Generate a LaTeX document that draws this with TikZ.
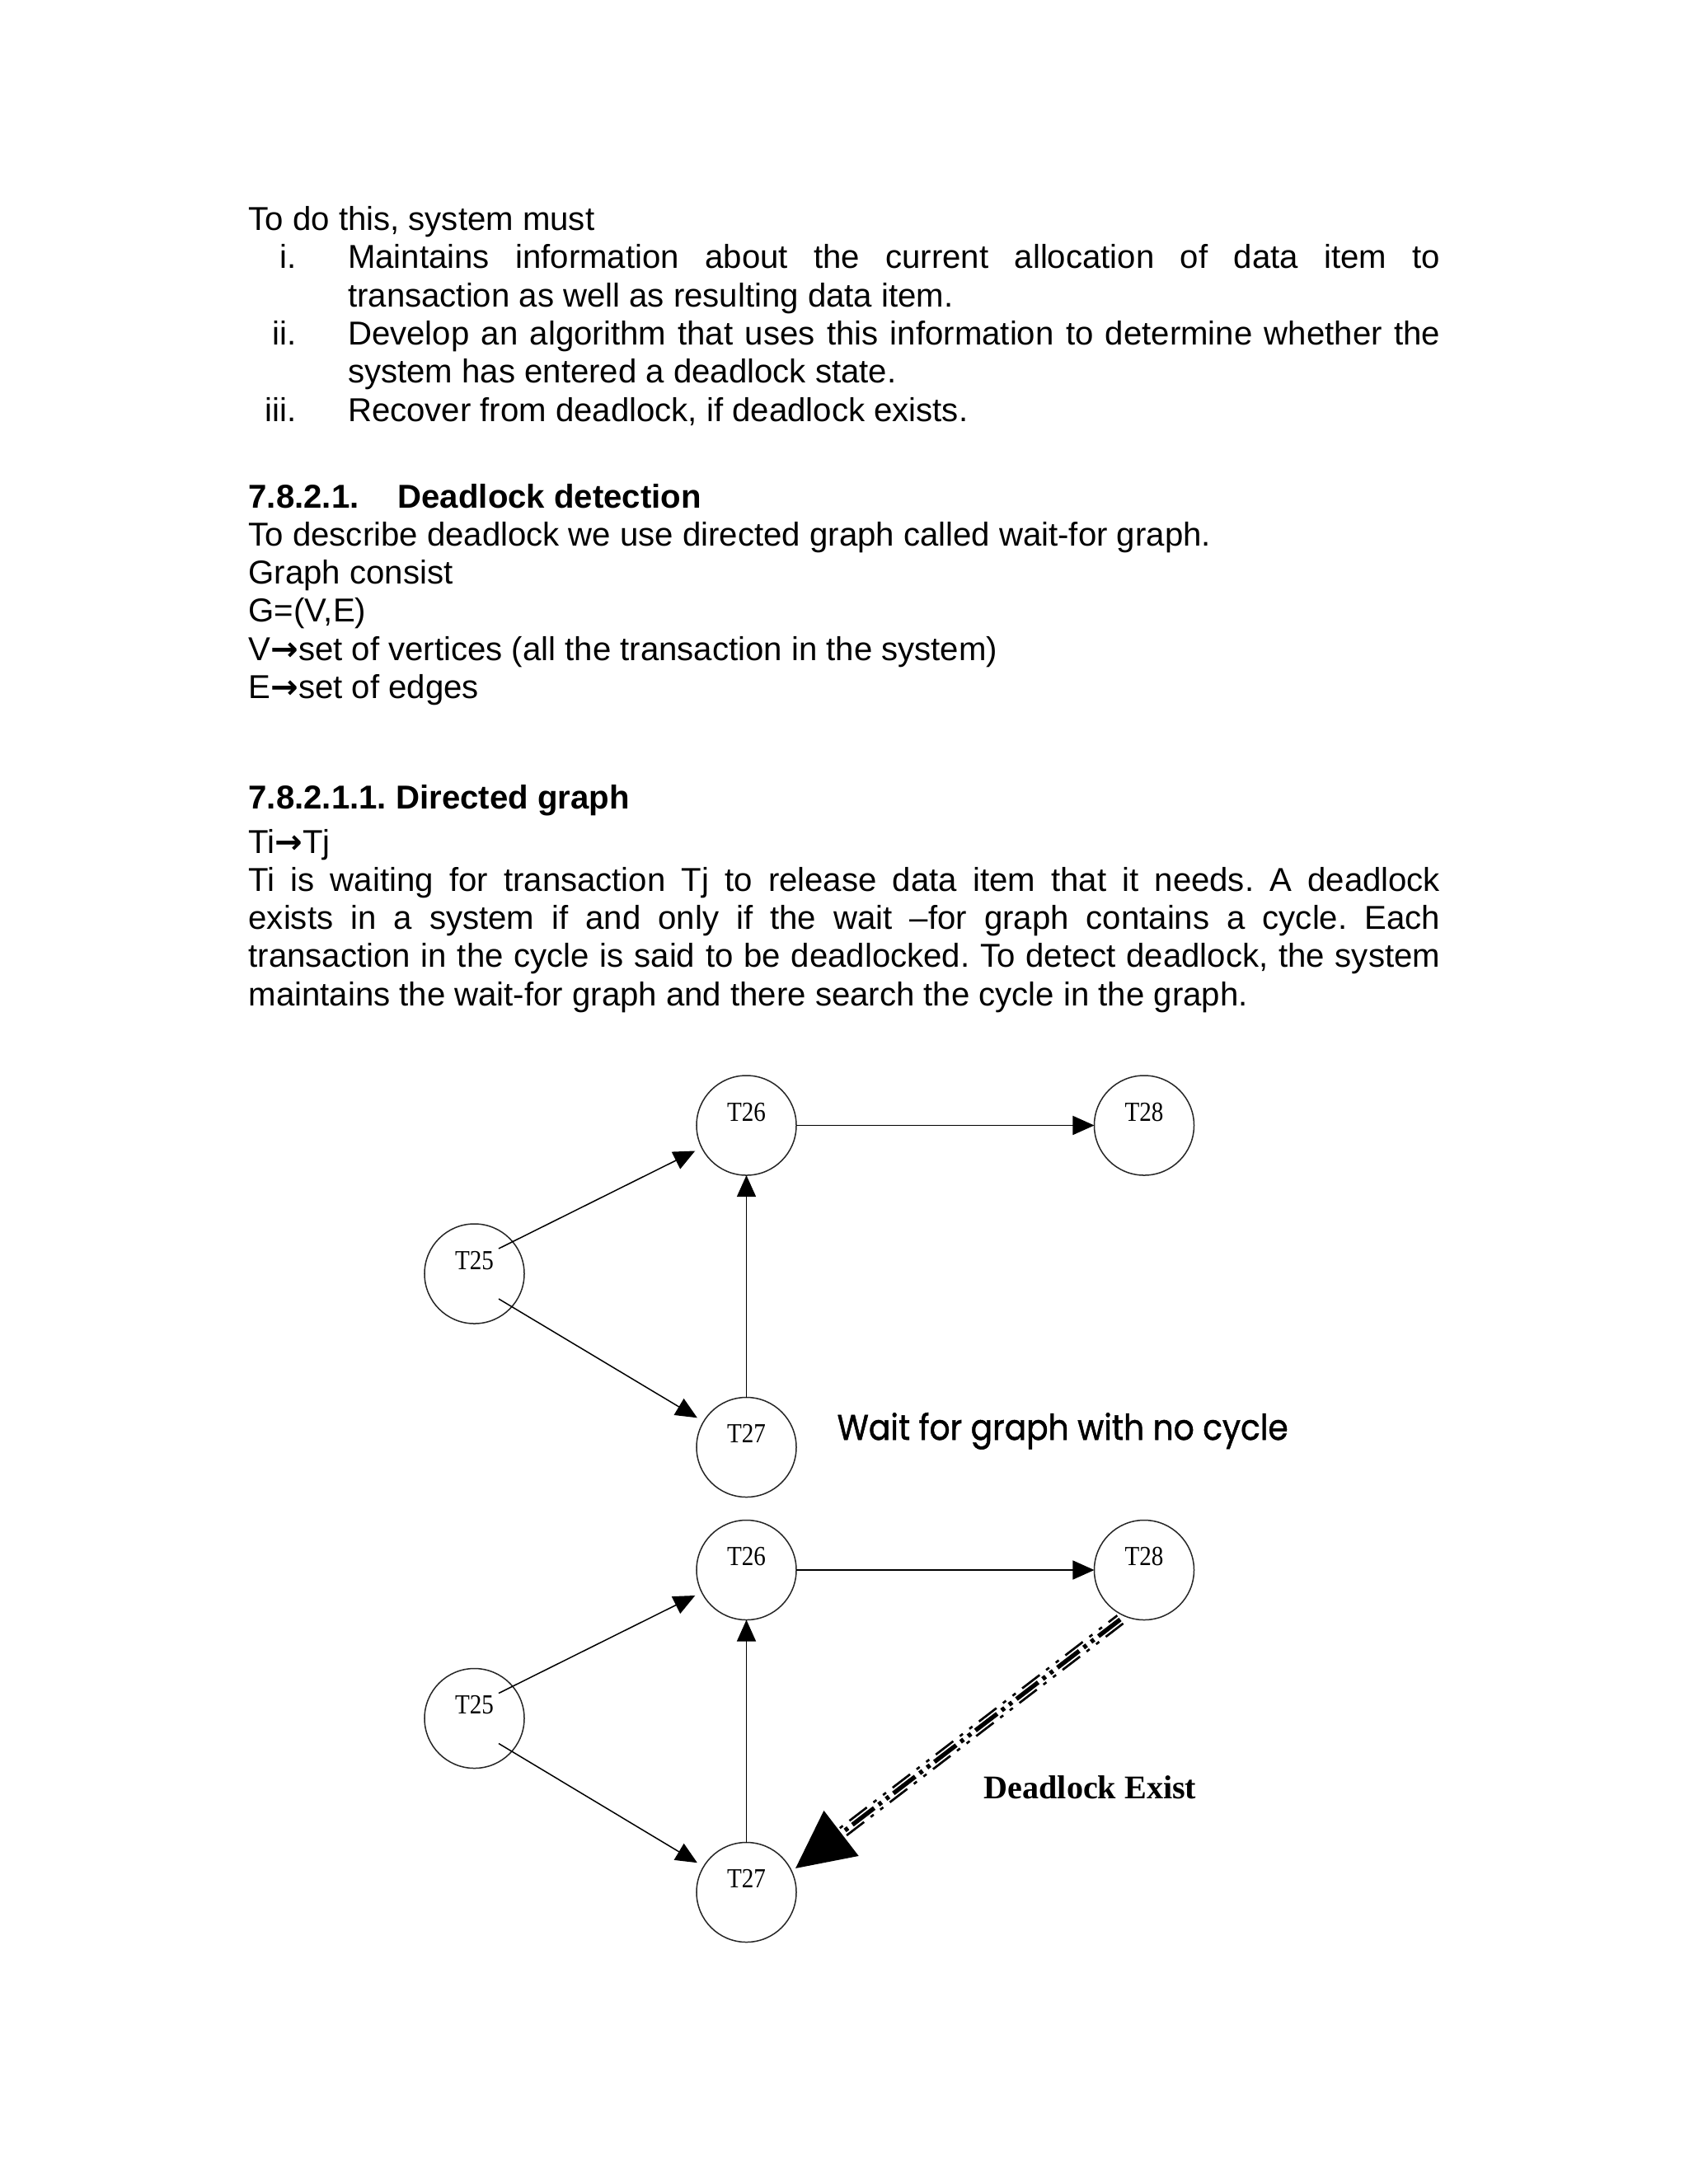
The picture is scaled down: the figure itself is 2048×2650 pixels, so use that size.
\documentclass[tikz,border=0pt]{standalone}
\usepackage{fontspec}
\setmainfont{Liberation Sans}
\newfontfamily\serifT{Liberation Serif}
\newfontfamily\gothic{Poppins}[FakeBold=1.2]
\newfontfamily\arrfont{DejaVu Sans}
\usetikzlibrary{arrows.meta,calc}
\newdimen\pxu \pxu=0.29995pt
\newcommand{\ra}{{\arrfont\bfseries →}}
\frenchspacing
\begin{document}
\begin{tikzpicture}[x=0.29995pt, y=-0.29995pt,
  txt/.style={anchor=base west, inner sep=0pt, font=\fontsize{12bp}{14bp}\selectfont\frenchspacing},
  btxt/.style={txt, font=\fontsize{12bp}{14bp}\selectfont\bfseries},
  tnode/.style={circle, draw=black!85, line width=0.45pt, minimum size=36.3pt, inner sep=0pt, outer sep=0pt},
  lab/.style={anchor=base, inner sep=0pt, font=\serifT\fontsize{10bp}{12bp}\selectfont},
  conn/.style={line width=0.45pt, -{Triangle[length=7.8pt,width=6.9pt]}},
  dlmain/.style={line width=1.6pt, dash pattern=on 10pt off 2pt on 1.4pt off 2pt on 1.4pt off 2pt, -{Triangle[length=21pt,width=20.4pt]}},
  dlside/.style={line width=0.8pt, dash pattern=on 8pt off 3pt on 1.4pt off 3pt on 1.4pt off 3pt, shorten >=19pt}
]
\path[use as bounding box, fill=white] (0,0) rectangle (2048,2650);

% ---- text ----
\node[txt] (p1) at (301,279) {To do this, system must};
\node[txt, anchor=base east] (n1) at (360,325.5) {i.};
\node[txt] (p2) at (421.5,325.5) {\hbox to 1325\pxu{Maintains information about the current allocation of data item to}};
\node[txt] (p3) at (421.5,372) {transaction as well as resulting data item.};
\node[txt, anchor=base east] (n2) at (360,418) {ii.};
\node[txt] (p4) at (421.5,418) {\hbox to 1325\pxu{Develop an algorithm that uses this information to determine whether the}};
\node[txt] (p5) at (421.5,464.5) {system has entered a deadlock state.};
\node[txt, anchor=base east] (n3) at (360,511) {iii.};
\node[txt] (p6) at (421.5,511) {Recover from deadlock, if deadlock exists.};

\node[btxt] (h1n) at (301,616) {7.8.2.1.};
\node[btxt] (h1) at (482,616) {Deadlock detection};
\node[txt] (p7) at (301,662.3) {To describe deadlock we use directed graph called wait-for graph.};
\node[txt] (p8) at (301,708.6) {Graph consist};
\node[txt] (p9) at (301,754.9) {G=(V,E)};
\node[txt] (p10) at (301,801.2) {V\ra set of vertices (all the transaction in the system)};
\node[txt] (p11) at (301,847.5) {E\ra set of edges};

\node[btxt] (h2) at (301,981) {7.8.2.1.1. Directed graph};
\node[txt] (p12) at (301,1035) {Ti\ra Tj};
\node[txt] (p13) at (301,1081.3) {\hbox to 1445.6\pxu{Ti is waiting for transaction Tj to release data item that it needs. A deadlock}};
\node[txt] (p14) at (301,1127.6) {\hbox to 1445.6\pxu{exists in a system if and only if the wait –for graph contains a cycle. Each}};
\node[txt] (p15) at (301,1173.9) {\hbox to 1445.6\pxu{transaction in the cycle is said to be deadlocked. To detect deadlock, the system}};
\node[txt] (p16) at (301,1220.2) {maintains the wait-for graph and there search the cycle in the graph.};

% ---- graph 1 ----
\node[tnode] (T25a) at (575.5,1545.5) {};
\node[tnode] (T26a) at (905.5,1365.5) {};
\node[tnode] (T28a) at (1388,1365.5) {};
\node[tnode] (T27a) at (905.5,1756) {};
\node[lab] (L25a) at ($(T25a)+(0,-5.5)$) {\scalebox{0.87}[1]{T25}};
\node[lab] (L26a) at ($(T26a)+(0,-5.5)$) {\scalebox{0.87}[1]{T26}};
\node[lab] (L28a) at ($(T28a)+(0,-5.5)$) {\scalebox{0.87}[1]{T28}};
\node[lab] (L27a) at ($(T27a)+(0,-5.5)$) {\scalebox{0.87}[1]{T27}};
\coordinate (a1) at ($(T25a)+(29.5,-30.5)$);
\coordinate (a2) at ($(T25a)+(29.5,30.5)$);
\draw[conn, shorten >=2.7pt] (a1) -- (T26a);
\draw[conn, shorten >=2.7pt] (a2) -- (T27a);
\draw[conn] (T26a) -- (T28a);
\draw[conn] (T27a) -- (T26a);
\node[anchor=base west, inner sep=0pt] (cap1) at (1015,1747) {\resizebox{547\pxu}{33\pxu}{\gothic Wait for graph with no cycle}};

% ---- graph 2 ----
\node[tnode] (T25b) at (575.5,2085) {};
\node[tnode] (T26b) at (905.5,1905) {};
\node[tnode] (T28b) at (1388,1905) {};
\node[tnode] (T27b) at (905.5,2296) {};
\node[lab] (L25b) at ($(T25b)+(0,-5.5)$) {\scalebox{0.87}[1]{T25}};
\node[lab] (L26b) at ($(T26b)+(0,-5.5)$) {\scalebox{0.87}[1]{T26}};
\node[lab] (L28b) at ($(T28b)+(0,-5.5)$) {\scalebox{0.87}[1]{T28}};
\node[lab] (L27b) at ($(T27b)+(0,-5.5)$) {\scalebox{0.87}[1]{T27}};
\coordinate (b1) at ($(T25b)+(29.5,-30.5)$);
\coordinate (b2) at ($(T25b)+(29.5,30.5)$);
\draw[conn, shorten >=2.7pt] (b1) -- (T26b);
\draw[conn, shorten >=2.7pt] (b2) -- (T27b);
\draw[conn] (T26b) -- (T28b);
\draw[conn] (T27b) -- (T26b);
\coordinate (d1) at ($(T28b)+(-29,60)$);
\coordinate (d2) at ($(T27b)+(59.5,-29)$);
\draw[dlside, transform canvas={shift={(3.6,4.8)}}] (d1) -- (d2);
\draw[dlside, dash phase=4pt, transform canvas={shift={(-3.6,-4.8)}}] (d1) -- (d2);
\draw[dlmain] (d1) -- (d2);
\node[anchor=base west, inner sep=0pt, font=\serifT\fontsize{12bp}{14bp}\selectfont\bfseries] (cap2) at (1193,2182) {Deadlock Exist};
\end{tikzpicture}
\end{document}
